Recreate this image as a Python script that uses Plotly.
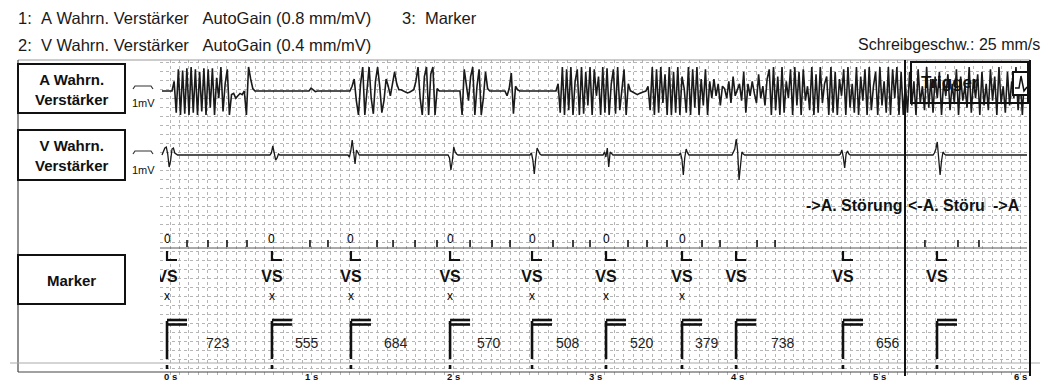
import plotly.graph_objects as go

# ---------------- chart data ----------------
title_rows = ["1:  A Wahrn. Verstärker   AutoGain (0.8 mm/mV)",
              "2:  V Wahrn. Verstärker   AutoGain (0.4 mm/mV)"]
title_marker = "3:  Marker"
speed_text = "Schreibgeschw.: 25 mm/s"
channel_names = ["A Wahrn.<br>Verstärker", "V Wahrn.<br>Verstärker", "Marker"]
gain_label = "1mV"
tick_values = [0, 1, 2, 3, 4, 5, 6]
tick_labels = ["0 s", "1 s", "2 s", "3 s", "4 s", "5 s", "6 s"]

# atrial EGM (normalised amplitude), sampled every a_dt seconds inside each segment
a_dt = 0.015
a_segments = [
    (0.014, [0, 0.4, -0.9, 0.9, -1, 0.85, -0.95, 0.95, -1, 1, -0.9, 0.9, -1, 0.8, -0.85, 0.95,
             -1, 0.9, -0.7, 0.95, -1, 0.55, -0.3, 1, -0.85, 0.3, 0.9, -1, -0.15, -0.1, -0.3,
             -0.2, -0.1, -0.15, 0, -1, 1, 0.5, 0.1, 0]),
    (0.980, [0, 0.12, 0.05, -0.03, 0]),
    (1.269, [0, 0.2, 0.5, -0.4, -1, 0.3, 1, -1, 0.2, 1, -0.3, -0.95, 0.4, 1, 0.2, -0.9, -0.4,
             0.5, 0.2, -0.2, 0.3, 0.8, 0.3, 0.05, 0.05, 0, -0.05, -0.08, -0.05, 0, 0.05, 0.4,
             1, -0.3, -1, 0.6, 1, -1, 0.7, 1, -1, 0.1, 0]),
    (2.045, [0, -1, 0.9, 0.2, -0.4, 0.6, 1, -1, 0.2, 0.9, -1, -0.3, 0.8, 0.1, 0]),
    (2.362, [0, -0.2, 0.1, 0.75, -0.95, 0.2, 0.05, 0]),
    (2.722, [0, 0.3, -0.9, 1, -1, 0.9, -0.8, 1, -1, 0.4, 0.9, -1, 1, -0.95, 0.8, -0.6, 1, -1,
             0.9, -0.2, 0.6, -1, 1, -0.9, 0.95, -1, 0.3, 0.9, -0.95, 1, -0.8, 0.2, 0.9, -1, 0.3, 0]),
    (3.251, [0, -0.05, -0.12, -0.15, -0.1, -0.05, -0.03, 0]),
    (3.371, [0.2, -0.8, 1, -1, 0.9, -0.9, 1, -0.5, 0.7, -1, 1, -1, 0.8, -0.9, 1, -1, 0.6, 0.1,
             -0.9, 1, -1, 0.9, -0.7, 1, -1, 0.5, -0.6, 0.9, -1, 0.4,
             -0.3, 0.5, -0.2, 0.3, -0.6, 0.2, 0.1, -0.3, 0.4, -0.5, 0.6, -0.2, 0.1, 0.3, -0.4,
             0.8, -0.9, 0.3, -0.2, 0.4, -0.1, -0.5, 0.7, -0.3, 0.2, -0.6, 0.5,
             0.9, -1, 1, -0.8, 0.6, -1, 1, -0.9, 0.4, -0.3, 0.9, -1, 1, -0.6, 0.8, -1, 0.9, -0.4,
             0.2, -0.8, 1, -1, 0.7, -0.9, 1, -0.5, 0.3, 0.6, -1, 1, -0.9, 0.8, -1, 0.5, -0.2,
             0.9, -1, 1, -0.7, 0.3, -0.9, 1, -1, 0.6, -0.4, 0.9, -1, 1, -0.8, 0.2, 0.8, -1, 1,
             -0.6, 0.4, -0.9, 1, -1, 0.9, -0.3, 1, -1, 0.8, -1,
             0.3, -0.9, 0.8, -0.6, 0.4, -1, 0.9, -0.5, 0.2, -0.8, 1, -0.7, 0.5, -0.9, 0.6, -0.3,
             0.8, -1, 0.4, -0.2, 0.7, -0.8, 0.3, -0.5, 0.9, -1, 0.6, -0.4, 0.2, -0.7, 1, -0.9,
             0.5, -0.3, 0.7, -1, 0.8, -0.6, 0.3, -0.8, 0.9, -0.4, 0.6, -1, 1, -0.5, 0.2, -0.9,
             0.8, -0.6, 0.4, -0.3, 1, -0.8, 0.5, -1, 0.7, 0]),
]

# ventricular EGM complexes (amplitude units), sampled every v_dt seconds
v_dt = 0.01
v_segments = [
    (-0.056, [0, 0.3, 0.7, 0.8, 0.1, -1.2, -0.6, 0.6, 0.7, 0.2, 0.05, 0]),
    (0.705, [0, 0.2, 0.9, 0.3, -0.5, -0.3, 0.1, 0]),
    (1.255, [0, -0.2, 0.4, 1.5, 0.3, -0.9, 0.5, 0.2, 0]),
    (1.961, [0, -0.3, -1.5, -0.6, 0.8, 0.3, 0.1, 0]),
    (2.539, [0, 0.2, -0.5, -1.9, -0.4, 0.7, 0.4, 0.1, 0]),
    (3.054, [0, 0.3, -0.2, 0.7, -1.2, 0.3, 0.1, 0]),
    (3.590, [0, 0.2, -0.4, -2.0, -0.3, 0.6, 0.2, 0]),
    (3.963, [0, 0.3, 0.6, 1.6, 0.4, -2.5, -0.8, 0.3, 0.1, 0]),
    (4.718, [0, 0.1, 0.5, -0.2, -1.3, 0.1, 0.4, 0.1, 0]),
    (5.381, [0, 0.2, 0.6, 1.3, -0.4, -2.0, -0.6, 0.3, 0.1, 0]),
]
signal_end_t = 6.044

# marker channel
vs_times = [-0.021, 0.719, 1.276, 1.975, 2.553, 3.075, 3.611, 3.992, 4.746, 5.409]
vs_label = "VS"
vs_zero = [True, True, True, True, True, True, True, False, False, False]
vs_cross = [True, True, True, True, True, True, True, False, False, False]
as_times = [0.120, 0.268, 0.402, 0.543, 0.987, 1.114, 1.460, 1.573, 1.728, 1.883, 2.116,
            2.271, 2.398, 2.701, 2.842, 2.962, 3.230, 3.364, 3.505, 3.752, 3.879, 4.140,
            4.267, 5.324, 5.557, 5.705]
interval_ms = [723, 555, 684, 570, 508, 520, 379, 738, 656]
interval_label_t = [0.339, 0.966, 1.594, 2.250, 2.807, 3.329, 3.787, 4.323, 5.063]
trigger_t = 5.183
trigger_text = "Trigger"
episode_texts = ["->A. Störung", "<-A. Störu", "->A"]

# ---------------- layout constants ----------------
# the page body keeps an 8 px margin, so the figure is 16 px smaller than the window
# and every reference pixel coordinate below is measured in window pixels.
PAGE_OFF = 8
W, H = 1054 - 2 * PAGE_OFF, 390 - 2 * PAGE_OFF
PLOT_L, PLOT_R, PLOT_T, PLOT_B = 160, 1030, 60, 375          # window pixels
ML, MT = PLOT_L - PAGE_OFF, PLOT_T - PAGE_OFF
MR, MB = W - (PLOT_R - PAGE_OFF), H - (PLOT_B - PAGE_OFF)
X0_PX, PX_PER_S = 170.0, 141.8
x_lo = (PLOT_L - X0_PX) / PX_PER_S
x_hi = (PLOT_R - X0_PX) / PX_PER_S
def tx(px):
    return (px - X0_PX) / PX_PER_S
def dtx(dpx):
    return dpx / PX_PER_S
def pxp(x):
    return (x - PLOT_L) / (PLOT_R - PLOT_L)
def pyp(y):
    return (PLOT_B - y) / (PLOT_B - PLOT_T)

A_BASE, A_GAIN = 91, 24
V_BASE, V_GAIN = 155, 10
INK = "#111111"
FONT = "Arial, 'Liberation Sans', sans-serif"
NB = "\u00a0"

fig = go.Figure()

def build(segments, dt, base, gain, start_t):
    xs, ys = [start_t], [base]
    for t0, vals in segments:
        for i, v in enumerate(vals):
            xs.append(t0 + i * dt)
            ys.append(base - gain * v)
    xs.append(signal_end_t)
    ys.append(base)
    return xs, ys

ax_, ay_ = build(a_segments, a_dt, A_BASE, A_GAIN, tx(162))
vx_, vy_ = build(v_segments, v_dt, V_BASE, V_GAIN, tx(162))
fig.add_trace(go.Scatter(x=ax_, y=ay_, mode="lines", line=dict(color="#1a1a1a", width=1.6),
                         hoverinfo="skip", showlegend=False))
fig.add_trace(go.Scatter(x=vx_, y=vy_, mode="lines", line=dict(color="#1a1a1a", width=1.3),
                         hoverinfo="skip", showlegend=False))

# marker baseline
MK_BASE = 248
fig.add_trace(go.Scatter(x=[tx(160), signal_end_t], y=[MK_BASE, MK_BASE], mode="lines",
                         line=dict(color="#555", width=1), hoverinfo="skip", showlegend=False))
# atrial sense ticks
sx, sy = [], []
for t in as_times:
    sx += [t, t, None]
    sy += [MK_BASE - 1, MK_BASE - 8, None]
fig.add_trace(go.Scatter(x=sx, y=sy, mode="lines", line=dict(color=INK, width=1.6),
                         hoverinfo="skip", showlegend=False))
# L glyphs
lx, ly = [], []
for t in vs_times:
    lx += [t, t, t + dtx(10), None]
    ly += [251, 260, 260, None]
fig.add_trace(go.Scatter(x=lx, y=ly, mode="lines", line=dict(color=INK, width=2.2),
                         hoverinfo="skip", showlegend=False))
# VS labels (first one is clipped by the plot edge)
fig.add_trace(go.Scatter(x=vs_times, y=[278] * len(vs_times), mode="text",
                         text=[vs_label] * len(vs_times),
                         textfont=dict(family=FONT, size=16, color=INK),
                         texttemplate="<b>%{text}</b>",
                         hoverinfo="skip", showlegend=False, cliponaxis=True))
# marker bars
bx, by = [], []
for t in vs_times:
    bx += [t, t, None, t, t + dtx(20), None, t, t + dtx(20), None, t, t, None]
    by += [321, 359, None, 320, 320, None, 324.5, 324.5, None, 365, 369, None]
fig.add_trace(go.Scatter(x=bx, y=by, mode="lines", line=dict(color=INK, width=2.6),
                         hoverinfo="skip", showlegend=False))

shapes = []
def pline(x0, y0, x1, y1, color=INK, width=1):
    shapes.append(dict(type="line", xref="paper", yref="paper", x0=pxp(x0), y0=pyp(y0),
                       x1=pxp(x1), y1=pyp(y1), line=dict(color=color, width=width)))
def prect(x0, y0, x1, y1, color=INK, width=2, fill="rgba(0,0,0,0)"):
    shapes.append(dict(type="rect", xref="paper", yref="paper", x0=pxp(x0), y0=pyp(y0),
                       x1=pxp(x1), y1=pyp(y1), line=dict(color=color, width=width),
                       fillcolor=fill))

FRAME_B = 372
# frame
pline(18, 60, 1030, 60, "#999", 1)
pline(18, 60, 18, FRAME_B, "#444", 1.2)
pline(10, 363, 1040, 363, "#aaa", 1)
pline(18, FRAME_B, 1030, FRAME_B, "#444", 1.2)
pline(1030, 60, 1030, 376, INK, 2)
pline(905, 60, 905, 376, INK, 2)
# channel boxes
prect(18, 64, 125, 113)
prect(18, 130, 125, 180)
prect(18, 255, 125, 304)
# 1 mV calibration pulses
for yb in (89, 154):
    shapes.append(dict(type="path", xref="paper", yref="paper",
                       path="M {} {} L {} {} L {} {} L {} {}".format(
                           pxp(133), pyp(yb), pxp(135), pyp(yb - 3),
                           pxp(151), pyp(yb - 3), pxp(153), pyp(yb)),
                       line=dict(color="#333", width=1.2)))
# trigger boxes
prect(911, 62, 1028, 103, INK, 2)
prect(1013, 72, 1028, 95, INK, 2, "white")
shapes.append(dict(type="path", xref="paper", yref="paper",
                   path="M {} {} L {} {} L {} {} L {} {} L {} {}".format(
                       pxp(1015), pyp(88), pxp(1019), pyp(88), pxp(1021), pyp(76),
                       pxp(1024), pyp(91), pxp(1027), pyp(87)),
                   line=dict(color=INK, width=1.5)))
pline(985, 198, 985, 210, "#bbb", 1)

ann = []
def ptext(x, y, s, size, bold=False, xanchor="left", color=INK, xref="paper", pad=1):
    ann.append(dict(xref=xref, yref="paper", x=(x if xref != "paper" else pxp(x)), y=pyp(y),
                    text=("<b>%s</b>" % s) if bold else s,
                    showarrow=False, xanchor=xanchor, yanchor="middle", borderpad=pad,
                    font=dict(family=FONT, size=size, color=color)))

ptext(16, 18, title_rows[0].replace(" ", NB), 16.5, color="#1a1a1a")
ptext(16, 45, title_rows[1].replace(" ", NB), 16.5, color="#1a1a1a")
ptext(400, 18, title_marker.replace(" ", NB), 16.5, color="#1a1a1a")
ptext(1042, 45, speed_text, 16, xanchor="right", color="#1a1a1a")
ptext(71.5, 89, channel_names[0], 15, True, "center")
ptext(71.5, 155, channel_names[1], 15, True, "center")
ptext(71.5, 280, channel_names[2], 15, True, "center")
ptext(143, 103, gain_label, 11, False, "center")
ptext(143, 170, gain_label, 11, False, "center")
ptext(904, 205, episode_texts[0], 16, True, "right")
ptext(906, 205, episode_texts[1], 16, True, "left")
ptext(991, 205, episode_texts[2], 16, True, "left")
ptext(950, 83, trigger_text, 17, True, "center")
# marker-channel texts
for t, z, c in zip(vs_times, vs_zero, vs_cross):
    if z:
        ptext(t, 239, "0", 12, False, "center", "#000000", xref="x")
    if c:
        ptext(t, 296, "x", 12, False, "center", "#000000", xref="x")
for t, v in zip(interval_label_t, interval_ms):
    ptext(t, 343, str(v), 14, False, "center", "#222222", xref="x")
# time axis labels (kept inside the figure area)
for tv, tl in zip(tick_values, tick_labels):
    ptext(tv, 376.3, tl, 9.5, True, "center", xref="x", pad=0)

fig.update_layout(
    width=W, height=H, margin=dict(l=ML, r=MR, t=MT, b=MB),
    paper_bgcolor="white", plot_bgcolor="white",
    shapes=shapes, annotations=ann, showlegend=False,
    xaxis=dict(range=[x_lo, x_hi], tickmode="array", tickvals=tick_values,
               showticklabels=False, ticks="", showline=False, zeroline=False,
               showgrid=True, gridcolor="#b5b5b5", griddash="dot", gridwidth=1,
               minor=dict(tickmode="linear", tick0=0, dtick=1 / 15, showgrid=True,
                          gridcolor="#b5b5b5", griddash="dot", gridwidth=1, ticks="")),
    yaxis=dict(range=[PLOT_B, PLOT_T], showticklabels=False, ticks="", zeroline=False,
               showline=False, showgrid=True, tick0=62, dtick=9.0,
               gridcolor="#b5b5b5", griddash="dot", gridwidth=1),
)
fig.write_html("out.html")
